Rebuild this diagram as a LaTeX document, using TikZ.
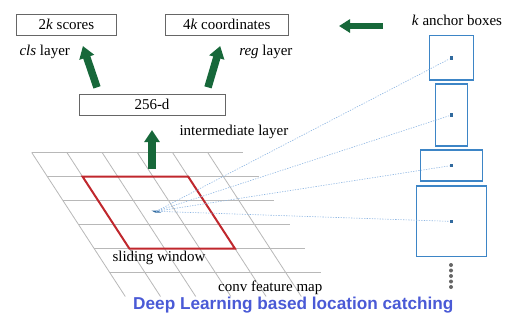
\documentclass[tikz,border=0pt]{standalone}
\usepackage{fontspec}
\setmainfont{Liberation Serif}
\newfontfamily\titlefont{Liberation Sans}
\usetikzlibrary{arrows.meta,positioning}

\definecolor{arrowgreen}{HTML}{17683A}
\definecolor{anchorblue}{HTML}{3D85C6}
\definecolor{rayblue}{HTML}{8DB6E2}
\definecolor{gridgray}{HTML}{B8B8B8}
\definecolor{winred}{HTML}{C0272D}
\definecolor{titleblue}{HTML}{4A5AD6}

\begin{document}
\begin{tikzpicture}[
			x=1pt, y=-1pt,
			every node/.style={font=\fontsize{15}{18}\selectfont},
			LayerBox/.style={draw=black!60, line width=0.8pt, outer sep=0pt, inner sep=0pt},
			Anchor/.style={draw=anchorblue, line width=1.3pt, outer sep=0pt, inner sep=0pt},
			ADot/.style={fill=anchorblue!80!black, minimum size=3.5pt, inner sep=0pt},
			BigArrow/.style={draw=arrowgreen, line width=7.5pt,
				-{Triangle[length=12pt, width=15pt]}},
			Ray/.style={draw=rayblue, line width=0.6pt, dash pattern=on 1.3pt off 1.3pt},
			]
			\useasboundingbox (0,0) rectangle (512,327);
			
			% output layers
			\node [LayerBox, minimum width=100.7pt, minimum height=21pt] (scores) at (66.4,24.5) {2\textit{k} scores};
			\node [LayerBox, minimum width=123.3pt, minimum height=21pt] (coords) at (226.7,24.5) {4\textit{k} coordinates};
			\node [anchor=west] (cls) at (16,52) {\textit{cls} layer};
			\node [anchor=east] (reg) at (296,52) {\textit{reg} layer};
			
			\node [LayerBox, minimum width=146pt, minimum height=20.7pt] (feat) at (152,104.7) {256-d};
			\node [anchor=west] (inter) at (176,131.5) {intermediate layer};
			
			\draw[BigArrow] ([xshift=18pt,yshift=7pt]feat.north west) -- ([xshift=16.5pt,yshift=-11pt]scores.south);
			\draw[BigArrow] ([xshift=-17pt,yshift=7pt]feat.north east) -- ([xshift=-6.5pt,yshift=-11pt]coords.south);
			
			% conv feature map, sheared grid
			\begin{scope}[shift={(31.7,152.5)}, x={(35.2pt,0pt)}, y={(15.6pt,-24pt)}]
				\foreach \i in {0,...,5} {
					\draw[gridgray, line width=0.8pt] (0,\i) -- (6,\i);
					\draw[gridgray, line width=0.8pt] (\i,0) -- (\i,6);
				}
				\draw[winred, line width=2pt, line join=miter] (1,1) -- (4,1) -- (4,4) -- (1,4) -- cycle;
				\coordinate (c) at (2.45,2.45);
				\fill[anchorblue!80!black] (2.33,2.42) -- (2.5,2.42) -- (2.57,2.5) -- (2.4,2.5) -- cycle;
			\end{scope}
			
			\draw[BigArrow] ([yshift=-54pt]feat.south) -- ([yshift=-15pt]feat.south);
			
			\node [anchor=west] (slide) at (109,258) {sliding window};
			\node [anchor=west, inner sep=0.5pt] (conv) at (217.5,287.5) {conv feature map};
			
			% anchor boxes
			\node (klabel) at (457,20) {\textit{k} anchor boxes};
			\coordinate (la) at (383,26);
			\coordinate (lb) at (339,26);
			\draw[draw=arrowgreen, line width=6pt, -{Triangle[length=11pt, width=13pt]}] (la) -- (lb);
			
			\node [Anchor, minimum width=44pt, minimum height=44.3pt] (a1) at (451.3,57.9) {};
			\node [Anchor, minimum width=31.6pt, minimum height=62pt] (a2) at (451.5,115) {};
			\node [Anchor, minimum width=62pt, minimum height=31pt] (a3) at (451.7,165.5) {};
			\node [Anchor, minimum width=70.4pt, minimum height=70.7pt] (a4) at (451.5,221.4) {};
			
			\foreach \k in {1,...,4} {
				\node [ADot] (d\k) at (a\k.center) {};
				\draw[Ray] (c) -- (d\k);
			}
			
			\foreach \y in {265,270.5,276,281.5,287}
				\fill[black!60] (451,\y) circle (2pt);
			
			% caption
			\node [font=\titlefont\fontsize{17.2}{20}\bfseries, text=titleblue, inner sep=0.5pt] (title) at (293.3,305.5) {Deep Learning based location catching};
		\end{tikzpicture}
\end{document}
